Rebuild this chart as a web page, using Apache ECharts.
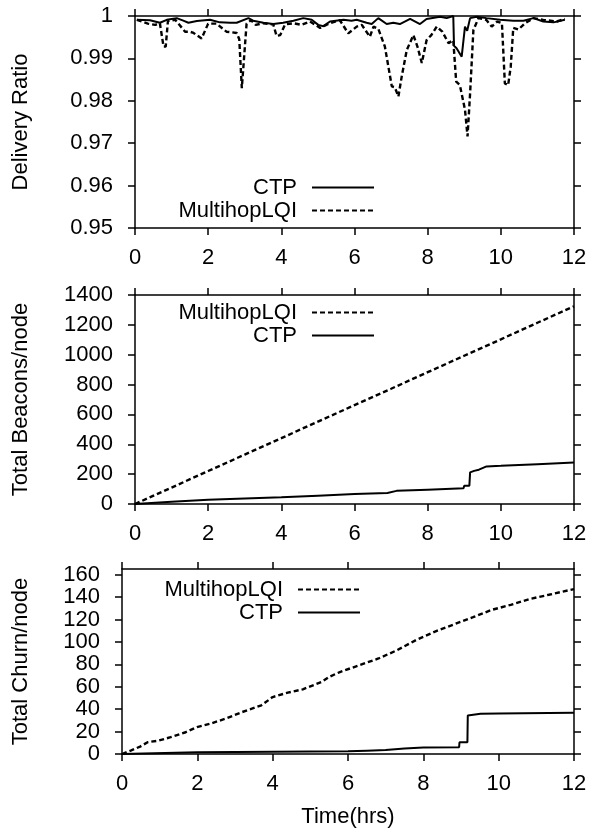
<!DOCTYPE html>
<html><head><meta charset="utf-8">
<script src="https://cdn.jsdelivr.net/npm/echarts@6/dist/echarts.min.js"></script>
<style>html,body{margin:0;padding:0;background:#fff}#c{width:594px;height:829px}</style>
</head><body><div id="c"></div>
<script>
const hourTicks = [0, 2, 4, 6, 8, 10, 12];
const deliveryTicks = [0.95, 0.96, 0.97, 0.98, 0.99, 1];
const beaconTicks = [0, 200, 400, 600, 800, 1000, 1200, 1400];
const churnTicks = [0, 20, 40, 60, 80, 100, 120, 140, 160];

const ctpDelivery = [
  [0.05,0.9991],[0.41,0.9990],[0.68,0.9984],[0.87,0.9991],[1.14,0.9995],[1.32,0.9989],[1.46,0.9984],
  [1.69,0.9988],[2.05,0.9991],[2.32,0.9985],[2.60,0.9984],[2.78,0.9984],[3.10,0.9995],[3.23,0.9989],
  [3.51,0.9984],[3.78,0.9981],[4.05,0.9984],[4.33,0.9989],[4.60,0.9995],[4.83,0.9991],[5.01,0.9979],
  [5.15,0.9976],[5.33,0.9987],[5.70,0.9991],[5.92,0.9989],[6.06,0.9991],[6.33,0.9984],[6.47,0.9981],
  [6.65,0.9995],[6.88,0.9981],[7.06,0.9984],[7.24,0.9981],[7.52,0.9993],[7.79,0.9981],[7.97,0.9993],
  [8.34,0.9998],[8.52,0.9995],[8.70,1.0],[8.72,0.9930],[8.79,0.9924],[8.93,0.9904],[9.02,0.9975],
  [9.08,0.9965],[9.16,0.9995],[9.34,0.9998],[9.61,0.9995],[9.98,0.9991],[10.34,0.9989],[10.62,0.9989],
  [10.89,0.9995],[11.16,0.9987],[11.44,0.9985],[11.75,0.9991]
];
const lqiDelivery = [
  [0.05,0.9991],[0.35,0.9982],[0.55,0.9979],[0.68,0.9983],[0.78,0.9928],[0.84,0.9928],[0.90,0.9988],
  [1.10,0.9991],[1.37,0.9963],[1.50,0.9963],[1.60,0.9960],[1.82,0.9947],[2.00,0.9982],[2.23,0.9982],
  [2.50,0.9963],[2.78,0.9960],[2.85,0.9945],[2.92,0.9830],[3.05,0.9982],[3.17,0.9990],[3.30,0.9979],
  [3.50,0.9983],[3.78,0.9980],[3.87,0.9953],[3.97,0.9955],[4.10,0.9980],[4.33,0.9983],[4.55,0.9979],
  [4.78,0.9987],[5.06,0.9972],[5.33,0.9983],[5.60,0.9990],[5.83,0.9959],[6.06,0.9975],[6.20,0.9979],
  [6.42,0.9951],[6.52,0.9975],[6.65,0.9970],[6.83,0.9928],[7.02,0.9834],[7.10,0.9832],[7.20,0.9810],
  [7.29,0.9857],[7.43,0.9920],[7.61,0.9955],[7.72,0.9928],[7.84,0.9889],[7.97,0.9943],[8.10,0.9955],
  [8.25,0.9975],[8.40,0.9963],[8.57,0.9936],[8.70,0.9943],[8.78,0.9845],[8.88,0.9837],[9.02,0.9779],
  [9.09,0.9716],[9.16,0.9818],[9.25,0.9967],[9.39,0.9995],[9.60,0.9991],[9.75,0.9975],[9.90,0.9987],
  [10.03,0.9983],[10.11,0.9841],[10.20,0.9837],[10.27,0.9880],[10.34,0.9972],[10.48,0.9968],[10.66,0.9983],
  [10.89,0.9995],[11.16,0.9991],[11.53,0.9987],[11.75,0.9993]
];
const lqiBeacons = [
  [0,0],[1,110],[2,221],[3,331],[4,441],[5,552],[6,662],[7,772],[8,883],[9,993],[10,1103],[11,1214],[12,1324]
];
const ctpBeacons = [
  [0,0],[1,15],[2,29],[3,37],[4,45],[5,56],[6,67],[6.9,74],[7.15,88],[8,96],[8.98,105],[9.0,122],
  [9.14,123],[9.16,212],[9.27,222],[9.4,230],[9.61,252],[10,256],[11,267],[12,278]
];
const lqiChurn = [
  [0,0],[0.23,3],[0.48,6.6],[0.68,10.5],[0.98,12],[1.29,15],[1.69,19.4],[1.99,24],[2.39,27.5],
  [2.79,32],[3.19,37.4],[3.7,43.4],[4.0,50.8],[4.4,54.7],[4.8,57.7],[5.3,64.3],[5.5,68.8],[5.8,73.3],
  [6.31,79.3],[6.81,85.2],[7.31,92.7],[7.81,101.7],[8.31,109.2],[8.82,115.7],[9.32,122],[9.82,128.6],
  [10.32,133],[10.82,138.2],[11.33,142],[12,147.1]
];
const ctpChurn = [
  [0,0],[2,1.5],[4,2],[6,2.4],[6.5,3],[7,3.6],[7.5,4.8],[8,5.7],[8.95,6],[8.96,10.5],[9.17,10.5],
  [9.18,34.4],[9.52,35.9],[10,36.2],[12,36.8]
];

const FONT = '"Liberation Sans", Arial, Helvetica, sans-serif';
const black = '#000';
const txt = {color: black, fontSize: 22, fontFamily: FONT};
const grids = [
  {left: 135, right: 20, top: 16, height: 212},
  {left: 135, right: 20, top: 295, height: 209},
  {left: 122, right: 20, top: 569, height: 185}
];
const yRanges = [[0.95, 1], [0, 1400], [0, 165]];
const yTicks = [deliveryTicks, beaconTicks, churnTicks];
const yNames = ['Delivery Ratio', 'Total Beacons/node', 'Total Churn/node'];
const yNameGaps = [103, 103, 90];

const xAxes = [], yAxes = [];
grids.forEach((g, i) => {
  [['bottom', true], ['top', false]].forEach(([pos, lab]) => {
    xAxes.push({
      gridIndex: i, type: 'value', position: pos, min: 0, max: 12,
      axisLine: {show: true, onZero: false, lineStyle: {color: black, width: 1.5}},
      axisTick: {show: true, length: 7, customValues: hourTicks, lineStyle: {color: black, width: 1.5}},
      axisLabel: {show: lab, customValues: hourTicks, margin: 19, ...txt},
      splitLine: {show: false},
      name: (lab && i === 2) ? 'Time(hrs)' : '', nameLocation: 'middle', nameGap: 52,
      nameTextStyle: txt
    });
  });
  [['left', true], ['right', false]].forEach(([pos, lab]) => {
    yAxes.push({
      gridIndex: i, type: 'value', position: pos, min: yRanges[i][0], max: yRanges[i][1],
      axisLine: {show: true, onZero: false, lineStyle: {color: black, width: 1.5}},
      axisTick: {show: true, length: 7, customValues: yTicks[i], lineStyle: {color: black, width: 1.5}},
      axisLabel: {show: lab, customValues: yTicks[i], margin: 22, ...txt,
        formatter: v => String(+(+v).toFixed(2))},
      splitLine: {show: false},
      name: lab ? yNames[i] : '', nameLocation: 'middle', nameGap: yNameGaps[i], nameRotate: 90,
      nameTextStyle: txt
    });
  });
});

function ser(name, i, data, dashed) {
  return {
    name, type: 'line', xAxisIndex: 2 * i, yAxisIndex: 2 * i, data,
    symbol: 'none', showSymbol: false, silent: true, animation: false,
    lineStyle: {color: black, width: dashed ? 2.4 : 2, type: dashed ? [5, 3] : 'solid'},
    itemStyle: {color: black}
  };
}

const legendBase = {
  orient: 'vertical', align: 'right', itemWidth: 62, itemHeight: 10, itemGap: 0, padding: 0,
  selectedMode: false,
  itemStyle: {color: 'rgba(0,0,0,0)', borderWidth: 0, opacity: 0},
  textStyle: {...txt, lineHeight: 23, padding: [0, 10, 0, 0]}
};

const option = {
  animation: false,
  backgroundColor: '#fff',
  grid: grids,
  xAxis: xAxes,
  yAxis: yAxes,
  legend: [
    {...legendBase, data: ['CTP', 'MultihopLQI'], right: 219, top: 176},
    {...legendBase, data: ['MultihopLQI', 'CTP'], right: 219, top: 301},
    {...legendBase, data: ['MultihopLQI', 'CTP'], right: 233, top: 578}
  ],
  series: [
    ser('MultihopLQI', 0, lqiDelivery, true),
    ser('CTP', 0, ctpDelivery, false),
    ser('MultihopLQI', 1, lqiBeacons, true),
    ser('CTP', 1, ctpBeacons, false),
    ser('MultihopLQI', 2, lqiChurn, true),
    ser('CTP', 2, ctpChurn, false)
  ]
};
const chart = echarts.init(document.getElementById('c'), null, {renderer: 'canvas'});
chart.setOption(option);
</script></body></html>
